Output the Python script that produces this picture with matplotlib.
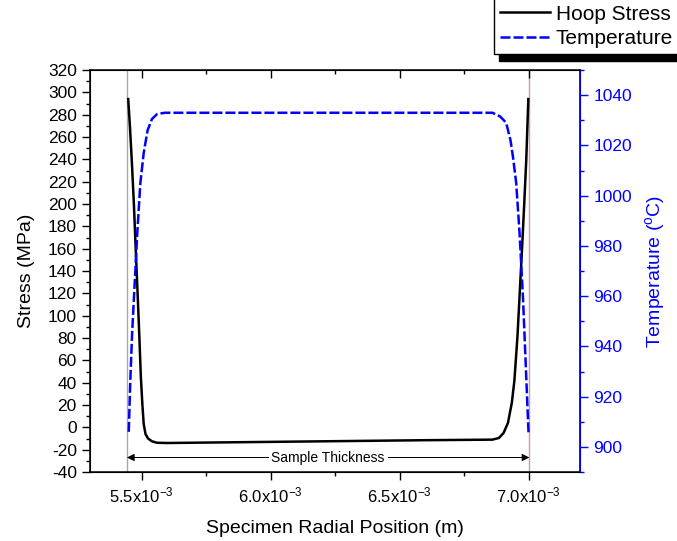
import matplotlib
matplotlib.use("Agg")
import matplotlib.pyplot as plt
import matplotlib.patches as patches
from matplotlib.ticker import FixedLocator, MultipleLocator, FixedFormatter

plt.rcParams['font.family'] = ['Liberation Sans', 'DejaVu Sans']
plt.rcParams['mathtext.fontset'] = 'custom'
plt.rcParams['mathtext.rm'] = 'Liberation Sans'
plt.rcParams['mathtext.it'] = 'Liberation Sans'
plt.rcParams['axes.unicode_minus'] = False

# Hoop stress (MPa) vs radial position (x1e-3 m)
stress_x = [5.448, 5.455, 5.462, 5.470, 5.477, 5.484, 5.491, 5.497, 5.503, 5.508,
            5.515, 5.525, 5.540, 5.560, 5.600, 5.800, 6.200, 6.600, 6.860, 6.885,
            6.903, 6.920, 6.935, 6.945, 6.957, 6.966, 6.975, 6.983, 6.991, 6.999]
stress_y = [294, 268, 238, 200, 160, 122, 82, 45, 20, 3,
            -6, -10, -12.5, -13.8, -14, -13.5, -12.5, -11.5, -11, -9.5,
            -5, 4, 22, 42, 82, 122, 162, 200, 240, 294]

# Temperature (C) vs radial position (x1e-3 m)
temp_x = [5.450, 5.456, 5.463, 5.471, 5.483, 5.495, 5.508, 5.523, 5.540, 5.560,
          5.590, 6.000, 6.500, 6.860, 6.890, 6.913, 6.930, 6.940, 6.952, 6.965,
          6.978, 6.990, 7.000]
temp_y = [906, 926, 945, 961, 985, 1005, 1017, 1026, 1030.5, 1032.5,
          1033, 1033, 1033, 1033, 1031.5, 1029, 1022, 1015, 1005, 985,
          960, 930, 905]

# sample boundaries (x1e-3 m)
inner_r = 5.443
outer_r = 7.003

x_ticks = [5.5, 6.0, 6.5, 7.0]

blue = '#0000ff'

fig = plt.figure(figsize=(6.77, 5.41), dpi=100)
ax = fig.add_axes([0.133, 0.1275, 0.724, 0.743])
ax2 = ax.twinx()

scale = 1e-3
ax.plot([v * scale for v in stress_x], stress_y, color='black', lw=1.8,
        label='Hoop Stress', zorder=3)
ax2.plot([v * scale for v in temp_x], temp_y, color=blue, lw=1.8,
         dashes=(4, 1.2), label='Temperature', zorder=3)

ax.axvline(inner_r * scale, color='#aaaaaa', lw=1, zorder=1)
ax.axvline(outer_r * scale, color='#c8a0a0', lw=1, zorder=1)

# Sample thickness arrow
ax.annotate('', xy=(inner_r * scale, -27), xytext=(outer_r * scale, -27),
            arrowprops=dict(arrowstyle='<|-|>', color='black', lw=0.7,
                            mutation_scale=11, shrinkA=0, shrinkB=0))
ax.text((inner_r + outer_r) / 2 * scale, -27, 'Sample Thickness', ha='center',
        va='center', fontsize=10,
        bbox=dict(facecolor='white', edgecolor='none', pad=2))

ax.set_xlim(5.3e-3, 7.2e-3)
ax.set_ylim(-40, 320)
ax2.set_ylim(890, 1050)

ax.xaxis.set_major_locator(FixedLocator([v * scale for v in x_ticks]))
ax.xaxis.set_major_formatter(FixedFormatter(
    [r'$%.1f\mathregular{x}10^{-3}$' % v for v in x_ticks]))
ax.xaxis.set_minor_locator(MultipleLocator(0.25e-3))
ax.yaxis.set_major_locator(MultipleLocator(20))
ax.yaxis.set_minor_locator(MultipleLocator(10))
ax2.yaxis.set_major_locator(MultipleLocator(20))
ax2.yaxis.set_minor_locator(MultipleLocator(10))

ax.tick_params(axis='both', which='major', direction='out', length=6, width=1,
               labelsize=12.5)
ax.tick_params(axis='x', which='major', labelsize=12)
ax.tick_params(axis='both', which='minor', direction='out', length=3, width=1)
ax.tick_params(axis='x', which='both', top=True)
ax.tick_params(axis='x', which='major', pad=4)
ax2.tick_params(axis='y', which='major', direction='out', length=6, width=1,
                labelsize=12.5, colors=blue)
ax2.tick_params(axis='y', which='minor', direction='out', length=3, width=1,
                colors=blue)
ax2.spines['right'].set_color(blue)
ax2.spines['right'].set_linewidth(1.3)
for s in ['left', 'bottom', 'top']:
    ax.spines[s].set_linewidth(1.1)

# top ticks point inwards
for t in ax.xaxis.get_major_ticks():
    t.tick2line.set_marker(3)
for t in ax.xaxis.get_minor_ticks():
    t.tick2line.set_marker(3)

ax.set_xlabel('Specimen Radial Position (m)', fontsize=14, labelpad=10)
ax.set_ylabel('Stress (MPa)', fontsize=14, labelpad=9)
ax2.set_ylabel(r'Temperature ($^{\mathregular{o}}$C)', fontsize=14,
               color=blue, labelpad=8)

h1, l1 = ax.get_legend_handles_labels()
h2, l2 = ax2.get_legend_handles_labels()
leg = fig.legend(h1 + h2, l1 + l2, loc='upper right',
                 bbox_to_anchor=(1.003, 1.003), fontsize=15, fancybox=False,
                 edgecolor='black', framealpha=1, handlelength=2.4,
                 handletextpad=0.25, labelspacing=0.25, borderpad=0.3,
                 borderaxespad=0)
leg.get_frame().set_linewidth(1)

# legend drop shadow
fig.canvas.draw()
bb = leg.get_window_extent().transformed(fig.transFigure.inverted())
fig.patches.append(patches.Rectangle((bb.x0 + 5 / 677, bb.y0 - 7 / 541),
                                     bb.width, bb.height, color='black',
                                     transform=fig.transFigure, zorder=0))
leg.set_zorder(5)

fig.savefig('out.png', dpi=100)
